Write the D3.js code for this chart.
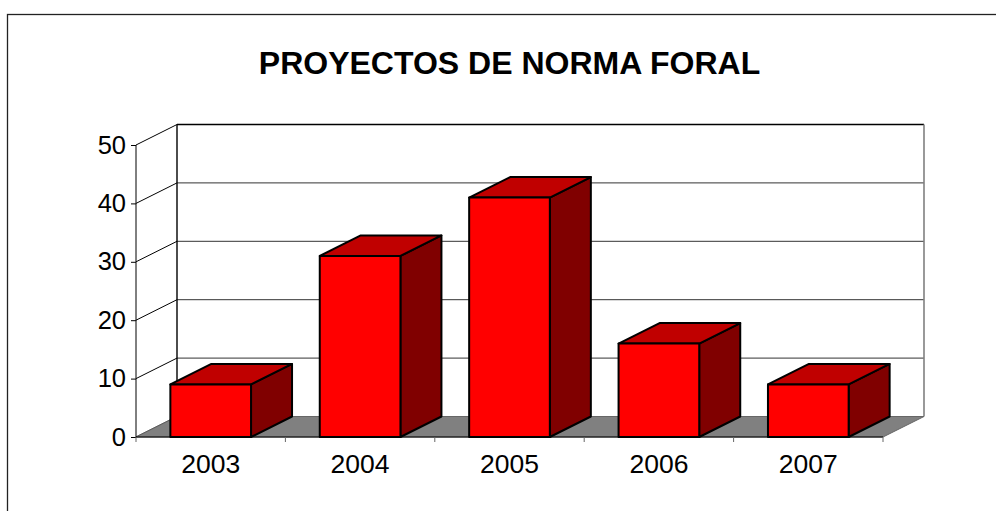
<!DOCTYPE html>
<html>
<head>
<meta charset="utf-8">
<script src="https://cdn.jsdelivr.net/npm/d3@7"></script>
<style>
  body { margin: 0; background: #fff; }
  text { font-family: "Liberation Sans", Arial, sans-serif; }
</style>
</head>
<body>
<div id="wrapper"></div>
<script>
// data
const years = ["2003", "2004", "2005", "2006", "2007"]
const proyectos = [9, 31, 41, 16, 9]
const yTicks = [0, 10, 20, 30, 40, 50]
const title = "PROYECTOS DE NORMA FORAL"

function drawChart() {

  // 1. Dimensions
  let dimensions = {
    width: 996,
    height: 511,
    plot: { left: 136, right: 883, top: 145, bottom: 437 },
    depth: { dx: 41, dy: -20.5 },
  }
  const p = dimensions.plot
  const dx = dimensions.depth.dx
  const dy = dimensions.depth.dy

  // 2. Canvas
  const svg = d3.select("#wrapper")
    .append("svg")
    .attr("width", dimensions.width)
    .attr("height", dimensions.height)

  // outer chart border (runs off the right and bottom edge)
  svg.append("rect")
    .attr("x", 7.5).attr("y", 14.5)
    .attr("width", 1100).attr("height", 600)
    .attr("fill", "#fff")
    .attr("stroke", "#222")
    .attr("stroke-width", 1.3)

  svg.append("text")
    .attr("x", 509.5)
    .attr("y", 74)
    .attr("text-anchor", "middle")
    .attr("font-size", 32)
    .attr("font-weight", "bold")
    .text(title)

  // 3. Scales
  const xScale = d3.scaleBand()
    .domain(years)
    .range([p.left, p.right])
    .paddingInner(0.46)
    .paddingOuter(0.23)

  const yScale = d3.scaleLinear()
    .domain([0, 50])
    .range([p.bottom, p.top])

  const step = xScale.step()

  // back wall gridlines
  svg.append("g")
    .selectAll("line")
    .data(yTicks.slice(1))
    .join("line")
    .attr("x1", p.left + dx)
    .attr("x2", p.right + dx)
    .attr("y1", d => yScale(d) + dy)
    .attr("y2", d => yScale(d) + dy)
    .attr("stroke", d => d == 50 ? "#000" : "#333")
    .attr("stroke-width", d => d == 50 ? 1.6 : 1)

  // left wall diagonals
  svg.append("g")
    .selectAll("line")
    .data(yTicks)
    .join("line")
    .attr("x1", p.left)
    .attr("x2", p.left + dx)
    .attr("y1", d => yScale(d))
    .attr("y2", d => yScale(d) + dy)
    .attr("stroke", "#000")
    .attr("stroke-width", 1)

  // left wall back edge
  svg.append("line")
    .attr("x1", p.left + dx).attr("x2", p.left + dx)
    .attr("y1", yScale(50) + dy).attr("y2", yScale(0) + dy)
    .attr("stroke", "#000").attr("stroke-width", 1.4)

  // back wall right edge
  svg.append("line")
    .attr("x1", p.right + dx).attr("x2", p.right + dx)
    .attr("y1", yScale(50) + dy).attr("y2", yScale(0) + dy)
    .attr("stroke", "#808080").attr("stroke-width", 1.6)

  // floor
  const floor = [
    [p.left, yScale(0)], [p.right, yScale(0)],
    [p.right + dx, yScale(0) + dy], [p.left + dx, yScale(0) + dy]
  ]
  svg.append("polygon")
    .attr("points", floor.map(d => d.join(",")).join(" "))
    .attr("fill", "#808080")
    .attr("stroke", "#666")
    .attr("stroke-width", 1)

  // y axis
  const yAxisGen = d3.axisLeft(yScale)
    .tickValues(yTicks)
    .tickSize(5)
    .tickPadding(5)
  const axisY = svg.append("g")
    .attr("transform", `translate(${p.left},0)`)
    .call(yAxisGen)
  axisY.select(".domain").attr("stroke", "#000").attr("d", `M0,${p.top}V${p.bottom}`)
  axisY.selectAll("text")
    .attr("font-size", 25.5)
    .attr("font-family", "Liberation Sans, Arial, sans-serif")
    .attr("fill", "#000")

  // x axis: ticks at category boundaries
  const bounds = d3.range(years.length + 1).map(i => p.left + i * step)
  svg.append("line")
    .attr("x1", p.left).attr("x2", p.right)
    .attr("y1", p.bottom).attr("y2", p.bottom)
    .attr("stroke", "#000").attr("stroke-width", 1.2)
  svg.append("g")
    .selectAll("line")
    .data(bounds)
    .join("line")
    .attr("x1", d => d).attr("x2", d => d)
    .attr("y1", p.bottom).attr("y2", p.bottom + 5)
    .attr("stroke", "#666")
  svg.append("g")
    .selectAll("text")
    .data(years)
    .join("text")
    .attr("x", d => p.left + (years.indexOf(d) + 0.5) * step)
    .attr("y", 473)
    .attr("text-anchor", "middle")
    .attr("font-size", 26.5)
    .text(d => d)

  // 4. Bars
  const bw = xScale.bandwidth()
  const bars = svg.append("g")
    .selectAll("g")
    .data(years.map((y, i) => ({ year: y, value: proyectos[i] })))
    .join("g")
    .attr("stroke", "#000")
    .attr("stroke-width", 2)
    .attr("stroke-linejoin", "round")

  bars.append("polygon") // side
    .attr("fill", "#800000")
    .attr("points", d => {
      const x = xScale(d.year) + bw, y0 = yScale(0), y1 = yScale(d.value)
      return [[x, y0], [x + dx, y0 + dy], [x + dx, y1 + dy], [x, y1]].map(q => q.join(",")).join(" ")
    })
  bars.append("polygon") // top
    .attr("fill", "#c00000")
    .attr("points", d => {
      const x = xScale(d.year), y1 = yScale(d.value)
      return [[x, y1], [x + dx, y1 + dy], [x + bw + dx, y1 + dy], [x + bw, y1]].map(q => q.join(",")).join(" ")
    })
  bars.append("rect") // front
    .attr("fill", "#ff0000")
    .attr("x", d => xScale(d.year))
    .attr("y", d => yScale(d.value))
    .attr("width", bw)
    .attr("height", d => yScale(0) - yScale(d.value))
}
drawChart()
</script>
</body>
</html>
